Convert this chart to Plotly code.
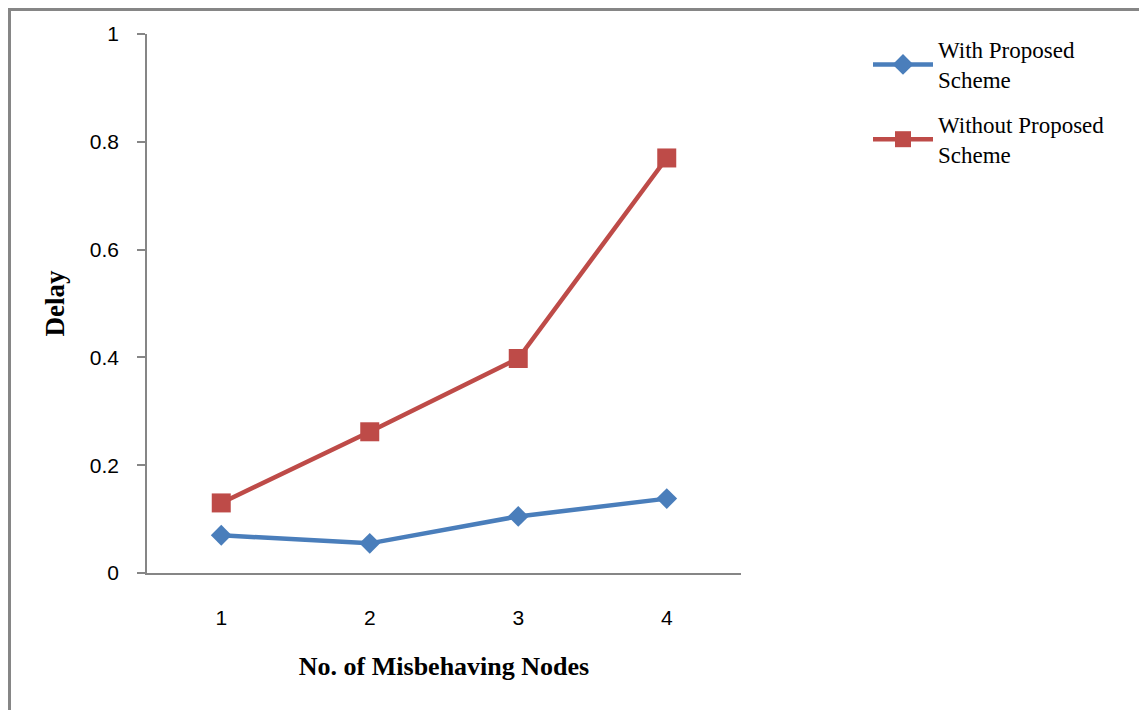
import plotly.graph_objects as go

categories = ["1", "2", "3", "4"]
with_scheme = [0.07, 0.055, 0.105, 0.138]
without_scheme = [0.13, 0.262, 0.398, 0.77]
y_ticks = [0, 0.2, 0.4, 0.6, 0.8, 1]
y_tick_labels = ["0", "0.2", "0.4", "0.6", "0.8", "1"]

W, H = 1147, 710
OFF = 8  # page body offset
L, T = 147 - OFF, 34 - OFF
PR, PB = 741 - OFF, 573 - OFF
R, B = W - PR, H - PB
pw, ph = W - L - R, H - T - B

fig = go.Figure()
fig.add_trace(go.Scatter(
    x=categories, y=with_scheme, mode="lines+markers",
    name="With Proposed<br>Scheme", legendgroup="with",
    line=dict(color="#4A7EBB", width=4.5),
    marker=dict(symbol="diamond", size=16, color="#4A7EBB"),
))
fig.add_trace(go.Scatter(
    x=categories, y=without_scheme, mode="lines+markers",
    name="Without Proposed<br>Scheme", legendgroup="without",
    line=dict(color="#BE4B48", width=4.5),
    marker=dict(symbol="square", size=19, color="#BE4B48"),
))

axis_color = "#868686"
fig.update_layout(
    width=W, height=H,
    margin=dict(l=L, r=R, t=T, b=B, pad=0),
    paper_bgcolor="white", plot_bgcolor="white",
    showlegend=True,
    legend=dict(
        x=(868 - OFF - L) / pw, y=1 + (T - (28 - OFF)) / ph, xanchor="left", yanchor="top",
        font=dict(family="Liberation Serif", size=23, color="black"),
        bgcolor="rgba(0,0,0,0)", tracegroupgap=12, itemwidth=60,
    ),
    xaxis=dict(
        type="category", range=[-0.5, 3.5],
        showline=True, linecolor=axis_color, linewidth=1.5,
        showgrid=False, zeroline=False,
        ticks="outside", ticklen=25, tickcolor="rgba(0,0,0,0)",
        tickfont=dict(family="Liberation Sans", size=21, color="black"),
        title=dict(text="<b>No. of Misbehaving Nodes</b>", standoff=29,
                   font=dict(family="Liberation Serif", size=26, color="black")),
    ),
    yaxis=dict(
        range=[0, 1], tickvals=y_ticks, ticktext=y_tick_labels,
        showline=True, linecolor=axis_color, linewidth=1.5,
        showgrid=False, zeroline=False,
        ticks="outside", ticklen=8, tickcolor=axis_color, tickwidth=1.5,
        ticklabelstandoff=14,
        tickfont=dict(family="Liberation Sans", size=21, color="black"),
        title=dict(text="<b>Delay</b>", standoff=17,
                   font=dict(family="Liberation Serif", size=27, color="black")),
    ),
)

# outer chart-area border (drawn at the figure's edge)
fig.add_shape(
    type="rect", xref="paper", yref="paper",
    x0=(1.5 - L) / pw, x1=(1300 - L) / pw,
    y0=1 - (800 - T) / ph, y1=1 + (T - 1.5) / ph,
    line=dict(color=axis_color, width=3), fillcolor="rgba(0,0,0,0)", layer="below",
)

fig.write_html("out.html")
